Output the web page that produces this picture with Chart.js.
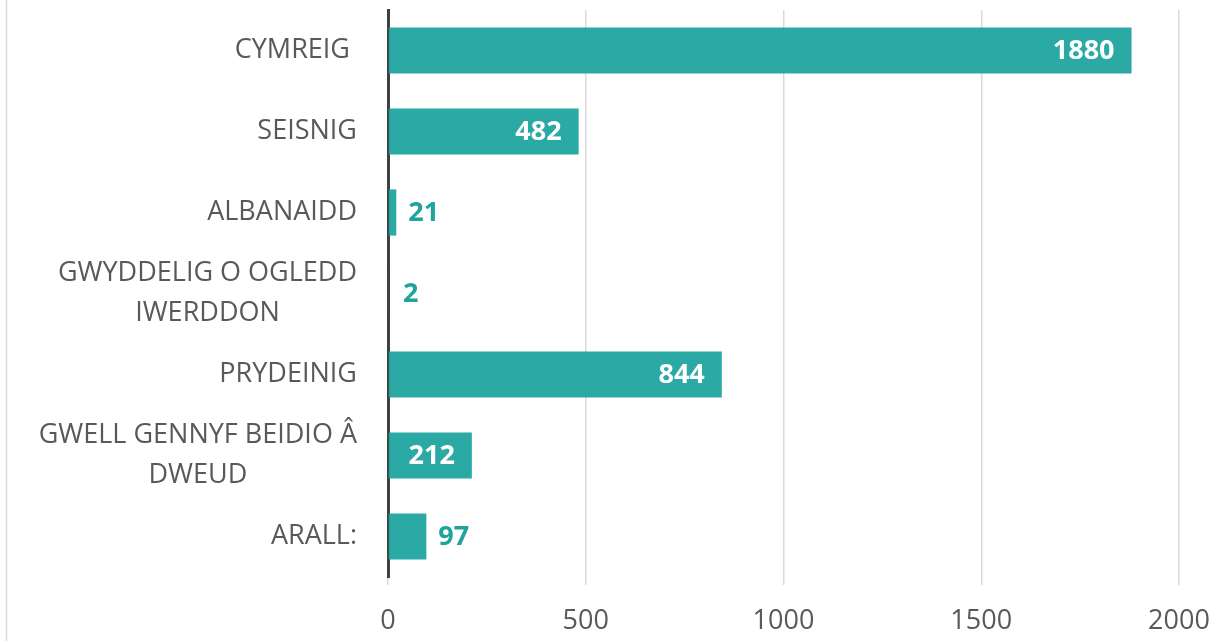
<!DOCTYPE html>
<html>
<head>
<meta charset="utf-8">
<script src="https://cdn.jsdelivr.net/npm/chart.js@4.4.0/dist/chart.umd.min.js"></script>
<style>
  html, body { margin: 0; padding: 0; background: #ffffff; }
  #wrap { width: 1224px; height: 641px; position: relative; }
</style>
</head>
<body>
<div id="wrap"><canvas id="c" width="1224" height="641"></canvas></div>
<script>
// ---- Data ----
const categories = [
  ["CYMREIG "],
  ["SEISNIG"],
  ["ALBANAIDD"],
  ["GWYDDELIG O OGLEDD", "IWERDDON"],
  ["PRYDEINIG"],
  ["GWELL GENNYF BEIDIO Â", "DWEUD"],
  ["ARALL:"]
];
const values = [1880, 482, 21, 2, 844, 212, 97];
const xTicks = [0, 500, 1000, 1500, 2000];

// ---- Styles ----
const BAR_COLOR = 'rgba(26,163,158,0.93)';
const LABEL_TEAL = '#1fa39e';
const TEXT_GRAY = '#595959';
const FONT_FAMILY = '"Open Sans", "DejaVu Sans", sans-serif';
const FONT_SIZE = 27;

const frame = {
  id: 'frame',
  beforeDraw(chart) {
    const ctx = chart.ctx;
    ctx.save();
    ctx.fillStyle = '#ffffff';
    ctx.fillRect(0, 0, chart.width, chart.height);
    ctx.strokeStyle = '#d9d9d9';
    ctx.lineWidth = 1.5;
    ctx.beginPath();
    ctx.moveTo(6.5, 0);
    ctx.lineTo(6.5, chart.height);
    ctx.stroke();
    ctx.restore();
  }
};

const catLabels = {
  id: 'catLabels',
  afterDraw(chart) {
    const ctx = chart.ctx;
    const yScale = chart.scales.y;
    const rightEdge = chart.chartArea.left - 31;
    const lineH = 40;
    ctx.save();
    ctx.font = FONT_SIZE + 'px ' + FONT_FAMILY;
    ctx.fillStyle = TEXT_GRAY;
    ctx.textAlign = 'center';
    ctx.textBaseline = 'middle';
    categories.forEach((lines, i) => {
      const yc = yScale.getPixelForValue(i);
      const w = Math.max(...lines.map(l => ctx.measureText(l).width));
      const cx = rightEdge - w / 2;
      const y0 = yc - (lines.length - 1) * lineH / 2;
      lines.forEach((l, j) => ctx.fillText(l, cx, y0 + j * lineH));
    });
    ctx.restore();
  }
};

const valueLabels = {
  id: 'valueLabels',
  afterDatasetsDraw(chart) {
    const ctx = chart.ctx;
    const meta = chart.getDatasetMeta(0);
    ctx.save();
    ctx.font = 'bold ' + FONT_SIZE + 'px ' + FONT_FAMILY;
    ctx.textBaseline = 'middle';
    meta.data.forEach((bar, i) => {
      const v = values[i];
      const y = bar.y + 1;
      if (v >= 200) {
        ctx.fillStyle = '#ffffff';
        ctx.textAlign = 'right';
        ctx.fillText(String(v), bar.x - 17, y);
      } else {
        ctx.fillStyle = LABEL_TEAL;
        ctx.textAlign = 'left';
        ctx.fillText(String(v), Math.max(bar.x + 12, chart.chartArea.left + 15), y);
      }
    });
    ctx.restore();
  }
};

new Chart(document.getElementById('c'), {
  type: 'bar',
  data: {
    labels: categories,
    datasets: [{
      data: values,
      backgroundColor: BAR_COLOR,
      borderWidth: 0,
      barPercentage: 0.57,
      categoryPercentage: 1.0
    }]
  },
  options: {
    indexAxis: 'y',
    responsive: false,
    animation: false,
    devicePixelRatio: 1,
    layout: { padding: { left: 388, right: 45, top: 10, bottom: 8 } },
    plugins: {
      legend: { display: false },
      tooltip: { enabled: false }
    },
    scales: {
      x: {
        min: 0,
        max: 2000,
        afterBuildTicks(scale) { scale.ticks = xTicks.map(v => ({ value: v })); },
        afterFit(scale) { scale.height = 56; scale.paddingLeft = 0; scale.paddingRight = 0; },
        grid: { color: '#d9d9d9', lineWidth: 1.5, tickLength: 8, drawTicks: true },
        border: { display: false },
        ticks: {
          color: TEXT_GRAY,
          padding: 20,
          font: { family: FONT_FAMILY, size: FONT_SIZE },
          maxRotation: 0,
          callback: (v) => String(v)
        }
      },
      y: {
        grid: { display: false, drawTicks: false },
        border: { display: true, color: '#404040', width: 3 },
        ticks: { display: false }
      }
    }
  },
  plugins: [frame, catLabels, valueLabels]
});
</script>
</body>
</html>
